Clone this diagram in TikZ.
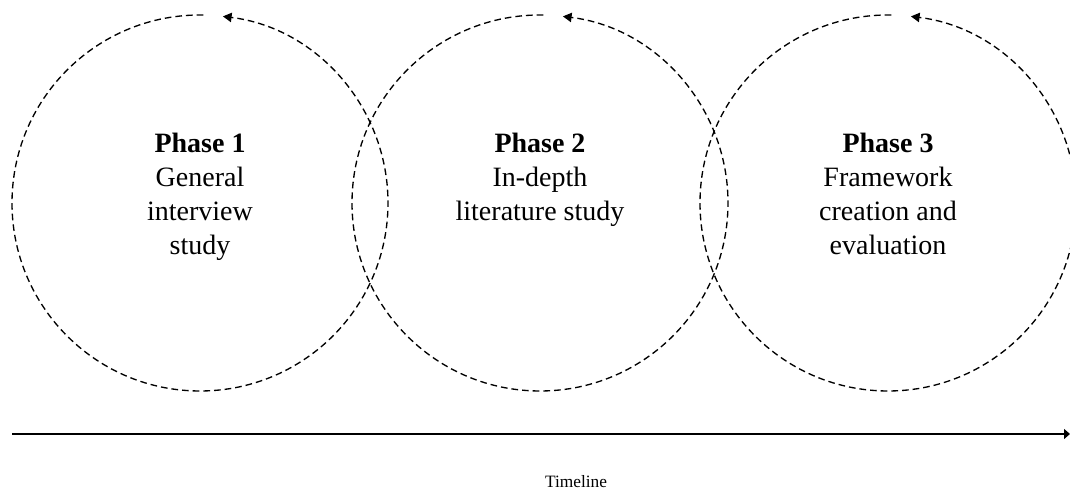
\documentclass[tikz,border=0pt]{standalone}
\usepackage{fontspec}
\setmainfont{Liberation Serif}
\usetikzlibrary{arrows.meta}

\begin{document}
\begin{tikzpicture}[
    x=0.75pt, y=0.75pt,
    phasearc/.style={line width=1pt, dash pattern=on 5pt off 3pt,
                     -{Triangle[length=6.5pt,width=7pt]}},
    phasetext/.style={anchor=north, align=center, inner sep=0pt,
                      font={\fontsize{21}{25.5}\selectfont}},
    timeaxis/.style={line width=0.9pt, -{Triangle[length=4.5pt,width=7.5pt]}},
    timelabel/.style={anchor=base, inner sep=0pt, font={\fontsize{13}{15}\selectfont}}
  ]
  % canvas
  \useasboundingbox (0,0) rectangle (1070,491);
  \clip (0,0) rectangle (1070,491);

  % circle centres
  \coordinate (c1) at (200,288);
  \coordinate (c2) at (540,288);
  \coordinate (c3) at (888,288);

  % open dashed cycles, each ending in an arrowhead near the top
  \foreach \c in {c1,c2,c3}{
    \draw[phasearc] ([shift={(89:188)}]\c) arc[start angle=89, end angle=443, radius=188];
  }

  % phase labels
  \node[phasetext] (p1) at ([yshift=55.8]c1)
    {\strut\textbf{Phase 1}\\General\\interview\\study\strut};
  \node[phasetext] (p2) at ([yshift=55.8]c2)
    {\strut\textbf{Phase 2}\\In-depth\\literature study\strut};
  \node[phasetext] (p3) at ([yshift=55.8]c3)
    {\strut\textbf{Phase 3}\\Framework\\creation and\\evaluation\strut};

  % timeline
  \coordinate (tstart) at (12,57);
  \coordinate (tend) at (1070,57);
  \draw[timeaxis] (tstart) -- (tend);
  \node[timelabel] (tlabel) at (576,3) {Timeline};
\end{tikzpicture}
\end{document}
